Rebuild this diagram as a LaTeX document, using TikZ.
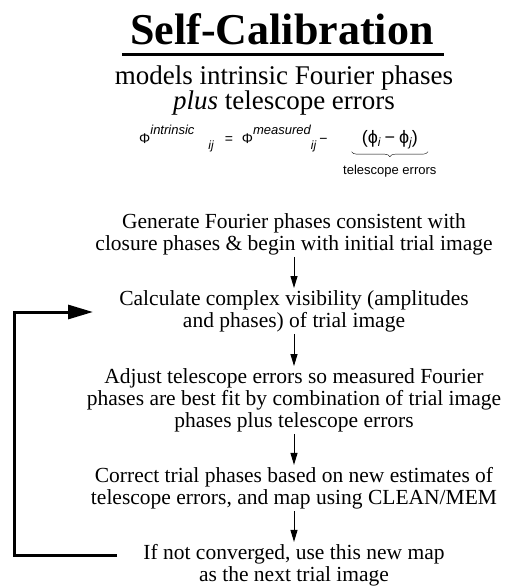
\documentclass[tikz,border=0pt]{standalone}
\usepackage{fontspec}
\setmainfont{Liberation Serif}
\newfontfamily\eqfont{Liberation Sans}
\usetikzlibrary{arrows.meta}
\usetikzlibrary{decorations.pathreplacing}

\newcommand{\supx}[1]{\raisebox{9pt}{\fontsize{13}{13}\selectfont\itshape #1}}
\newcommand{\subx}[1]{\raisebox{-6pt}{\fontsize{12}{12}\selectfont\itshape #1}}
\newcommand{\subphi}[1]{\raisebox{-3pt}{\fontsize{12}{12}\selectfont\itshape #1}}
\newcommand{\tightlines}{\lineskiplimit=-20pt\relax}

\begin{document}
\begin{tikzpicture}[x=1pt,y=-1pt,
        stepbox/.style={align=center,inner sep=2pt,font=\fontsize{21.5}{22}\selectfont\tightlines},
        eqtext/.style={inner sep=1pt,font=\eqfont\fontsize{14}{14}\selectfont},
        flow/.style={-{Triangle[length=12pt,width=7pt]},line width=1pt},
        backloop/.style={-{Triangle[length=25pt,width=14pt]},line width=3pt}]
    \useasboundingbox (0,0) rectangle (512,588);
    \node[font=\fontsize{44}{44}\selectfont\bfseries,anchor=base] (title) at (282,45) {Self-Calibration};
    \draw[line width=3pt] ([xshift=-5pt,yshift=-10pt]title.base west) -- ([xshift=7pt,yshift=-10pt]title.base east);
    \node[font=\fontsize{27}{25}\selectfont\tightlines,align=center] (models) at (284,91) {models intrinsic Fourier phases\\\textit{plus} telescope errors};
    \node[eqtext,anchor=base west] (eqn) at (138,143) {Φ\supx{intrinsic}\hspace*{14pt}\subx{ij}\hspace*{11pt}=\hspace*{9pt}Φ\supx{measured}\subx{ij}\hspace*{3pt}−\hspace*{32pt}};
    \node[eqtext,font=\eqfont\fontsize{18}{18}\selectfont,anchor=base west] (errterm) at (eqn.base east) {(ϕ\subphi{i}\hspace*{4pt}−\hspace*{4pt}ϕ\subphi{j})};
    \draw[decorate,decoration={brace,amplitude=5pt,mirror}]
        ([xshift=-9pt,yshift=-2pt]errterm.south west) -- ([xshift=9pt,yshift=-2pt]errterm.south east)
        node[midway,below=12pt,inner sep=1pt,font=\eqfont\fontsize{13}{13}\selectfont] (errlabel) {telescope errors};
    \node[stepbox] (gen) at (294,234) {Generate Fourier phases consistent with\\closure phases \& begin with initial trial image};
    \node[stepbox] (calc) at (294,311) {Calculate complex visibility (amplitudes\\and phases) of trial image};
    \node[stepbox] (adj) at (294,400) {Adjust telescope errors so measured Fourier\\phases are best fit by combination of trial image\\phases plus telescope errors};
    \node[stepbox] (corr) at (294,488) {Correct trial phases based on new estimates of\\telescope errors, and map using CLEAN/MEM};
    \node[stepbox] (conv) at (294,565) {If not converged, use this new map\\as the next trial image};
    \foreach \a/\b in {gen/calc,calc/adj,adj/corr,corr/conv} {
        \draw[flow] (\a) -- (\b);
    }
    \coordinate (loopfrom) at (117,555);
    \coordinate (loopcorner) at (14,312);
    \coordinate (loopto) at (93,312);
    \draw[backloop] (loopfrom) -| (loopcorner) -- (loopto);
\end{tikzpicture}
\end{document}
